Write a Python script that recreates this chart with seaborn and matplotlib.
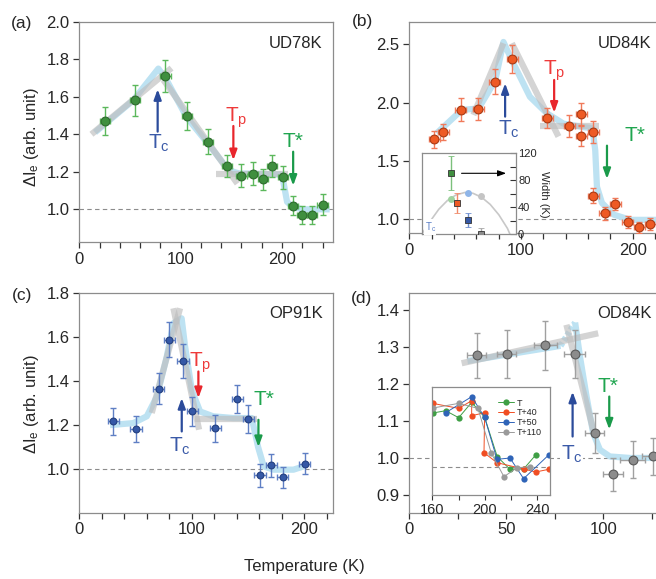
import pandas as pd
import seaborn as sns
import matplotlib.pyplot as plt
from matplotlib.ticker import MultipleLocator

sns.set_style('ticks')
plt.rcParams['font.family'] = ['Liberation Sans', 'DejaVu Sans']
plt.rcParams['mathtext.fontset'] = 'custom'
plt.rcParams['mathtext.rm'] = 'Liberation Sans'
plt.rcParams['mathtext.it'] = 'Liberation Sans:italic'
plt.rcParams['mathtext.default'] = 'regular'

# ---- (a) UD78K
a_T = [25, 55, 85, 106, 127, 146, 160, 171, 181, 190, 200.6, 210.5, 220, 230, 240]
a_I = [1.47, 1.58, 1.71, 1.497, 1.36, 1.23, 1.18, 1.19, 1.16, 1.23, 1.17, 1.02, 0.97, 0.97, 1.025]
a_Ierr = [0.075, 0.08, 0.085, 0.074, 0.067, 0.06, 0.06, 0.06, 0.056, 0.06, 0.06, 0.053, 0.05, 0.05, 0.056]
a_Terr = [5, 5, 5, 5, 5, 5, 5, 5, 5, 5, 5, 5, 5, 5, 5]
a_fit_T = [15.5, 53, 78, 86, 106, 127, 145, 152, 158.5, 172, 200, 205, 211, 221, 247]
a_fit_I = [1.41, 1.58, 1.75, 1.69, 1.49, 1.35, 1.225, 1.20, 1.19, 1.19, 1.185, 1.04, 1.01, 1.0, 1.0]
a_lines = [([12, 91], [1.40, 1.753]), ([83, 156], [1.69, 1.137]), ([135, 206], [1.19, 1.19])]

# ---- (b) UD84K
b_T = [22.4, 30.4, 46, 61.8, 76.4, 92.2, 123.6, 143.3, 154, 154, 164.8, 164.8, 175, 184.5, 195.5, 206, 215.8]
b_I = [1.686, 1.75, 1.94, 1.946, 2.18, 2.377, 1.866, 1.80, 1.90, 1.71, 1.75, 1.20, 1.05, 1.13, 0.974, 0.93, 0.96]
b_Ierr = [0.074, 0.071, 0.10, 0.093, 0.104, 0.12, 0.086, 0.093, 0.093, 0.086, 0.093, 0.064, 0.057, 0.053, 0.05, 0.05, 0.05]
b_Terr = [5, 5, 5, 5, 5, 5, 5, 5, 5, 5, 5, 5, 5, 5, 5, 5, 5]
b_fit_T = [24.5, 47, 62, 77, 84.3, 93, 108, 123, 138, 156, 164, 166.5, 168, 172.5, 183, 198, 233]
b_fit_I = [1.737, 1.937, 1.95, 2.19, 2.52, 2.34, 2.05, 1.91, 1.82, 1.79, 1.78, 1.59, 1.28, 1.14, 1.04, 0.995, 0.995]
b_lines = [([57.4, 84.3], [1.894, 2.509]), ([91.8, 133.6], [2.509, 1.709]), ([117, 169.5], [1.80, 1.80])]

# inset of (b): width vs doping
dome_p = [0.05, 0.07, 0.09, 0.11, 0.13, 0.15, 0.16, 0.17, 0.19, 0.21, 0.23, 0.25, 0.256]
dome_w = [0, 19.5, 37.2, 50.1, 58.3, 61.9, 61.9, 60.7, 54.8, 44.2, 28.9, 8.8, 0]
circ_p = [0.118, 0.159, 0.188]
circ_w = [52.3, 61.7, 56.8]
circ_c = ['#9fd39f', '#8fb5e8', '#c4c4c4']
sq_p = [0.118, 0.132, 0.159, 0.188]
sq_w = [90.4, 45.9, 20.7, 1.0]
sq_err = [25, 15, 10.5, 9]
sq_c = ['#3f8f3f', '#ee5a24', '#3558a6', '#8c8c8c']
sq_ec = ['#7cc07c', '#f08a6a', '#6f8fd0', '#a8a8a8']

# ---- (c) OP91K
c_T = [30.3, 50.4, 70.6, 80.1, 92.3, 100.6, 120.8, 140.4, 150.4, 160.8, 170.9, 181, 200.6]
c_I = [1.218, 1.182, 1.365, 1.588, 1.492, 1.262, 1.185, 1.318, 1.227, 0.971, 1.017, 0.962, 1.024]
c_Ierr = [0.062, 0.059, 0.07, 0.08, 0.077, 0.065, 0.06, 0.064, 0.063, 0.053, 0.052, 0.047, 0.049]
c_Terr = [5, 5, 5, 5, 5, 5, 5, 5, 5, 5, 5, 5, 5]
c_fit_T = [27.3, 48, 60, 69, 77.7, 83.7, 91, 94, 100, 107.4, 119, 137, 153.4, 159, 164, 172.7, 190.5, 199.4]
c_fit_I = [1.20, 1.209, 1.24, 1.33, 1.51, 1.664, 1.686, 1.56, 1.36, 1.262, 1.24, 1.232, 1.232, 1.10, 1.012, 0.997, 0.997, 1.012]
c_lines = [([64.4, 89.6], [1.255, 1.732]), ([83.7, 106.5], [1.732, 1.179]), ([103, 158], [1.227, 1.227])]

# ---- (d) OD84K
d_T = [34.7, 50.2, 70.1, 85.2, 95.5, 105.2, 115.1, 125.4]
d_I = [1.277, 1.281, 1.304, 1.281, 1.068, 0.956, 0.995, 1.004]
d_Ierr = [0.062, 0.064, 0.065, 0.064, 0.054, 0.045, 0.05, 0.05]
d_Terr = [5, 5, 6, 5.2, 5, 5.2, 6.4, 5.6]
d_fit1_T = [30, 78]
d_fit1_I = [1.262, 1.303]
d_dot_T = [78, 85.5]
d_dot_I = [1.303, 1.366]
d_fit2_T = [85.5, 88, 91.4, 94.8, 98.3, 103.4, 113.7, 135]
d_fit2_I = [1.366, 1.274, 1.166, 1.067, 1.022, 1.004, 1.0, 1.0]
d_lines = [([27, 97.4], [1.256, 1.337]), ([81, 95.7], [1.36, 1.058])]

# inset of (d): shifted curves
ins_T = {
    'T': [160.3, 170.2, 180.1, 190.0, 199.9, 209.5, 219.2, 229.6, 238.8],
    'T+40': [160.3, 180.1, 190.0, 190.0, 199.9, 199.4, 209.3, 229.6, 238.8, 248.7],
    'T+50': [170.2, 190.0, 199.9, 209.3, 219.2, 229.6, 248.7],
    'T+110': [160.3, 180.1, 194.8, 205.0, 214.6, 224.3, 234.2],
}
ins_I = {
    'T': [1.163, 1.170, 1.149, 1.195, 1.150, 1.032, 0.994, 0.995, 1.037],
    'T+40': [1.192, 1.177, 1.200, 1.155, 1.164, 1.044, 1.014, 0.995, 0.986, 0.994],
    'T+50': [1.164, 1.212, 1.150, 1.024, 1.028, 0.966, 1.037],
    'T+110': [1.178, 1.192, 1.177, 1.042, 0.972, 0.998, 1.002],
}
ins_colors = {'T': '#3f9f45', 'T+40': '#f04e23', 'T+50': '#2f64b8', 'T+110': '#9a9a9a'}

GRAY_LINE = '#bdbdbd'
BLUE_LINE = '#bde2f2'
C_TC, C_TP, C_TS = '#2b4b9b', '#e8262c', '#1a9a4a'

fig = plt.figure(figsize=(6.56, 5.79), dpi=100)
ax_a = fig.add_axes([0.1209, 0.5815, 0.3867, 0.3810])
ax_b = fig.add_axes([0.6239, 0.5971, 0.3974, 0.3655])
ax_c = fig.add_axes([0.1209, 0.1145, 0.3867, 0.3789])
ax_d = fig.add_axes([0.6239, 0.1145, 0.3974, 0.3789])


def style(ax, xmajor, xminor, ymajor):
    for s in ax.spines.values():
        s.set_color('#8c8c8c')
        s.set_linewidth(0.9)
    ax.xaxis.set_major_locator(MultipleLocator(xmajor))
    ax.xaxis.set_minor_locator(MultipleLocator(xminor))
    ax.yaxis.set_major_locator(MultipleLocator(ymajor))
    ax.tick_params(which='both', direction='out', length=4, width=0.9,
                   color='#333333', labelsize=12, pad=3)
    ax.tick_params(axis='y', which='minor', length=0)
    ax.axhline(1.0, color='#8c8c8c', lw=0.8, ls=(0, (4, 3)), zorder=1)


def panel(ax, T, I, Terr, Ierr, face, edge, ecol, size):
    ax.errorbar(T, I, yerr=Ierr, xerr=Terr, fmt='none', ecolor=ecol,
                elinewidth=1.0, capsize=2.5, capthick=1.0, zorder=4)
    sns.scatterplot(x=T, y=I, ax=ax, color=face, edgecolor=edge, s=size,
                    linewidth=0.8, zorder=5, legend=False)


def guide(ax, T, I, color, alpha=1.0, ls='-', z=2):
    sns.lineplot(x=T, y=I, ax=ax, sort=False, estimator=None, color=color,
                 lw=4.5, alpha=alpha, ls=ls, zorder=z, solid_capstyle='butt')


def arrow(ax, x, y0, y1, color):
    ax.annotate('', xy=(x, y1), xytext=(x, y0), zorder=6,
                arrowprops=dict(arrowstyle='-|>,head_length=0.6,head_width=0.22',
                                color=color, lw=1.6, shrinkA=0, shrinkB=0))


def label(ax, x, y, s, color, bg=False):
    t = ax.text(x, y, s, color=color, fontsize=15, ha='center', va='baseline', zorder=7)
    if bg:
        t.set_bbox(dict(fc='white', ec='none', pad=0.3))


# (a)
style(ax_a, 100, 20, 0.2)
guide(ax_a, a_fit_T, a_fit_I, BLUE_LINE)
for xs, ys in a_lines:
    guide(ax_a, xs, ys, GRAY_LINE, alpha=0.65, z=3)
panel(ax_a, a_T, a_I, a_Terr, a_Ierr, '#3f8f3f', '#2d6b2d', '#5cb85c', 40)
ax_a.set_xlim(0, 250.3)
ax_a.set_ylim(0.824, 2.0)
arrow(ax_a, 77.3, 1.414, 1.64, C_TC)
label(ax_a, 78.6, 1.325, r'T$_{\rm c}$', '#3a5aa8')
arrow(ax_a, 152, 1.444, 1.262, C_TP)
label(ax_a, 155.3, 1.467, r'T$_{\rm p}$', '#ee3a3a')
arrow(ax_a, 211, 1.307, 1.126, C_TS)
label(ax_a, 211, 1.334, 'T*', '#1fa54f')
ax_a.text(0.959, 0.902, 'UD78K', transform=ax_a.transAxes, ha='right', va='center', fontsize=12)

# (b)
style(ax_b, 100, 20, 0.5)
ax_b.spines['right'].set_visible(False)
guide(ax_b, b_fit_T, b_fit_I, BLUE_LINE)
for xs, ys in b_lines:
    guide(ax_b, xs, ys, GRAY_LINE, alpha=0.65, z=3)
panel(ax_b, b_T, b_I, b_Terr, b_Ierr, '#ee5a24', '#a83a14', '#f07a5a', 40)
ax_b.set_xlim(0, 233.4)
ax_b.set_ylim(0.880, 2.694)
arrow(ax_b, 85.8, 1.88, 2.166, C_TC)
label(ax_b, 88.8, 1.723, r'T$_{\rm c}$', '#3a5aa8')
arrow(ax_b, 129.7, 2.194, 1.914, C_TP)
label(ax_b, 129.7, 2.237, r'T$_{\rm p}$', '#ee3a3a')
arrow(ax_b, 177, 1.631, 1.346, C_TS)
label(ax_b, 202.4, 1.671, 'T*', '#1fa54f')
ax_b.text(0.930, 0.898, 'UD84K', transform=ax_b.transAxes, ha='right', va='center', fontsize=12)

# inset of (b)
ax_bi = fig.add_axes([0.6428, 0.5953, 0.1438, 0.1399])
ax_bi.set_facecolor('white')
for s in ax_bi.spines.values():
    s.set_color('#8c8c8c')
    s.set_linewidth(0.9)
sns.lineplot(x=dome_p, y=dome_w, ax=ax_bi, sort=False, estimator=None, color='#c8c8c8', lw=1.2)
for p, w, col in zip(circ_p, circ_w, circ_c):
    ax_bi.plot(p, w, 'o', color=col, ms=5, mec='none', zorder=3)
for p, w, e, col, ec in zip(sq_p, sq_w, sq_err, sq_c, sq_ec):
    ax_bi.errorbar(p, w, yerr=e, fmt='s', color=col, mec='#333333', mew=0.6, ms=5,
                   ecolor=ec, elinewidth=1.0, capsize=2.5, zorder=4)
ax_bi.annotate('', xy=(0.247, 90.4), xytext=(0.143, 90.4),
               arrowprops=dict(arrowstyle='-|>,head_length=0.5,head_width=0.18',
                               color='black', lw=0.8, shrinkA=0, shrinkB=0))
ax_bi.text(0.03, 0.09, r'T$_{\rm c}$', transform=ax_bi.transAxes, color='#5b7fc7', fontsize=7,
           ha='left', va='center', bbox=dict(fc='white', ec='none', pad=0.5))
ax_bi.set_xlim(0.05, 0.27)
ax_bi.set_ylim(0, 120)
ax_bi.set_xticks([])
ax_bi.yaxis.tick_right()
ax_bi.yaxis.set_label_position('right')
ax_bi.yaxis.set_major_locator(MultipleLocator(40))
ax_bi.yaxis.set_minor_locator(MultipleLocator(20))
ax_bi.tick_params(axis='y', which='both', direction='in', length=4, width=0.8,
                  color='#333333', labelsize=8, pad=1.5)
ax_bi.set_ylabel('Width (K)', rotation=270, fontsize=8, labelpad=9)

# (c)
style(ax_c, 100, 20, 0.2)
guide(ax_c, c_fit_T, c_fit_I, BLUE_LINE)
for xs, ys in c_lines:
    guide(ax_c, xs, ys, GRAY_LINE, alpha=0.65, z=3)
panel(ax_c, c_T, c_I, c_Terr, c_Ierr, '#3558a6', '#233f80', '#5f7fc4', 24)
ax_c.set_xlim(0, 225.6)
ax_c.set_ylim(0.801, 1.8)
arrow(ax_c, 91.1, 1.171, 1.323, C_TC)
label(ax_c, 89.6, 1.08, r'T$_{\rm c}$', '#3a5aa8')
arrow(ax_c, 105.9, 1.444, 1.323, C_TP)
label(ax_c, 107.4, 1.464, r'T$_{\rm p}$', '#ee3a3a')
arrow(ax_c, 159.3, 1.224, 1.10, C_TS)
label(ax_c, 164.4, 1.292, 'T*', '#1fa54f')
ax_c.text(0.959, 0.909, 'OP91K', transform=ax_c.transAxes, ha='right', va='center', fontsize=12)

# (d)
style(ax_d, 50, 25, 0.1)
ax_d.spines['right'].set_visible(False)
guide(ax_d, d_fit1_T, d_fit1_I, BLUE_LINE)
guide(ax_d, d_dot_T, d_dot_I, BLUE_LINE, ls=(0, (0.6, 0.4)))
guide(ax_d, d_fit2_T, d_fit2_I, BLUE_LINE)
for xs, ys in d_lines:
    guide(ax_d, xs, ys, GRAY_LINE, alpha=0.65, z=3)
panel(ax_d, d_T, d_I, d_Terr, d_Ierr, '#8c8c8c', '#5a5a5a', '#a0a0a0', 40)
ax_d.set_xlim(0, 134.4)
ax_d.set_ylim(0.852, 1.445)
arrow(ax_d, 84.2, 1.058, 1.179, C_TC)
label(ax_d, 83.7, 0.995, r'T$_{\rm c}$', '#3a5aa8', bg=True)
arrow(ax_d, 103.1, 1.166, 1.077, C_TS)
label(ax_d, 102.2, 1.177, 'T*', '#1fa54f')
ax_d.text(0.930, 0.909, 'OD84K', transform=ax_d.transAxes, ha='right', va='center', fontsize=12)

# inset of (d)
ax_di = fig.add_axes([0.6590, 0.1451, 0.1794, 0.1870])
ax_di.set_facecolor('white')
for s in ax_di.spines.values():
    s.set_color('#8c8c8c')
    s.set_linewidth(0.9)
ax_di.axhline(1.0, color='#8c8c8c', lw=0.8, ls=(0, (4, 3)), zorder=1)
rows = []
for name in ins_T:
    for i, (t, v) in enumerate(zip(ins_T[name], ins_I[name])):
        rows.append({'T': t, 'I': v, 'series': name, 'order': i})
df_in = pd.DataFrame(rows)
sns.lineplot(data=df_in, x='T', y='I', hue='series', palette=ins_colors, ax=ax_di,
             sort=False, estimator=None, marker='o', markersize=4.5, markeredgewidth=0,
             lw=0.7, legend=False)
handles = [plt.Line2D([], [], color=ins_colors[k], marker='o', ms=4.5, mew=0, lw=0.7) for k in ins_colors]
ax_di.legend(handles, list(ins_colors), loc='upper left', bbox_to_anchor=(0.56, 0.89),
             frameon=False, fontsize=6.5, handlelength=1.7, handletextpad=0.4,
             labelspacing=0.08, borderaxespad=0, borderpad=0)
ax_di.set_xlim(160, 249.7)
ax_di.set_ylim(0.917, 1.242)
ax_di.set_yticks([])
ax_di.xaxis.set_major_locator(MultipleLocator(40))
ax_di.xaxis.set_minor_locator(MultipleLocator(20))
ax_di.tick_params(axis='x', which='both', direction='out', length=3.5, width=0.8,
                  color='#333333', labelsize=10.5, pad=2)
ax_di.set_xlabel('')
ax_di.set_ylabel('')

for ax in (ax_a, ax_b, ax_c, ax_d):
    ax.set_xlabel('')
    ax.set_ylabel('')

fig.text(0.0483, 0.763, r'$\Delta$I$_{\rm e}$ (arb. unit)', rotation=90, ha='center', va='center', fontsize=12)
fig.text(0.0483, 0.302, r'$\Delta$I$_{\rm e}$ (arb. unit)', rotation=90, ha='center', va='center', fontsize=12)
fig.text(0.4634, 0.0212, 'Temperature (K)', ha='center', va='center', fontsize=12)
fig.text(0.0335, 0.9597, '(a)', ha='center', va='center', fontsize=12.5)
fig.text(0.5526, 0.9637, '(b)', ha='center', va='center', fontsize=12.5)
fig.text(0.0343, 0.4888, '(c)', ha='center', va='center', fontsize=12.5)
fig.text(0.5514, 0.4853, '(d)', ha='center', va='center', fontsize=12.5)

fig.savefig('out.png', dpi=100)
